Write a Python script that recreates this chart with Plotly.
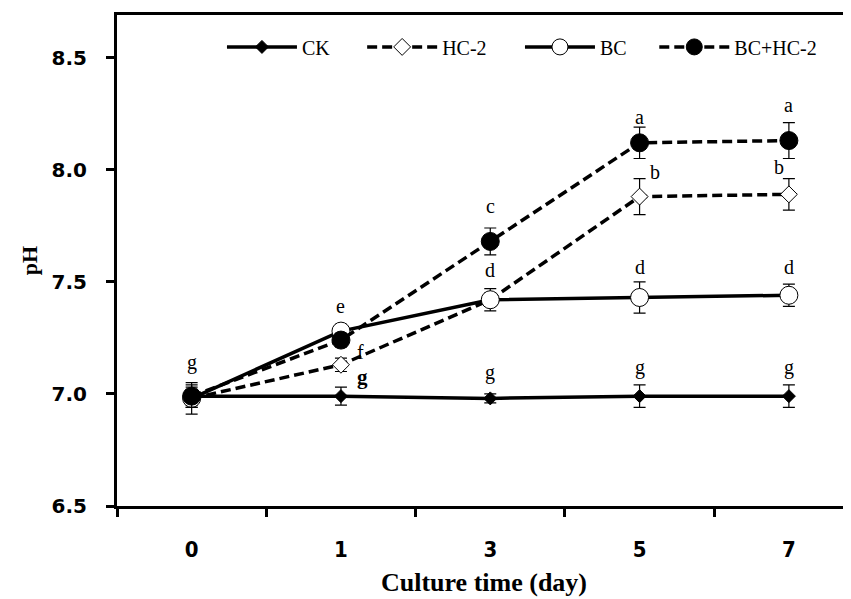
import plotly.graph_objects as go

days = ["0", "1", "3", "5", "7"]
series_names = ["CK", "HC-2", "BC", "BC+HC-2"]

ck = [6.99, 6.99, 6.98, 6.99, 6.99]
ck_err = [0.04, 0.04, 0.02, 0.05, 0.05]
hc2 = [6.98, 7.13, 7.42, 7.88, 7.89]
hc2_err = [0.04, 0.03, 0.03, 0.08, 0.07]
bc = [6.98, 7.28, 7.42, 7.43, 7.44]
bc_err = [0.07, 0.03, 0.05, 0.07, 0.05]
bchc = [6.99, 7.24, 7.68, 8.12, 8.13]
bchc_err = [0.05, 0.03, 0.06, 0.07, 0.08]

ck_letters = ["g", "g", "g", "g", "g"]
hc2_letters = ["", "f", "", "b", "b"]
bc_letters = ["", "e", "d", "d", "d"]
bchc_letters = ["", "", "c", "a", "a"]

y_ticks = [6.5, 7.0, 7.5, 8.0, 8.5]
y_ticktext = ["6.5", "7.0", "7.5", "8.0", "8.5"]

values = [ck, hc2, bc, bchc]
errors = [ck_err, hc2_err, bc_err, bchc_err]
letters = [ck_letters, hc2_letters, bc_letters, bchc_letters]

# styles
dashes = ["solid", "10px,5px", "solid", "10px,5px"]
symbols = ["diamond", "diamond", "circle", "circle"]
msizes = [10, 13, 18, 18]
mfill = ["black", "white", "white", "black"]
legend_ids = ["legend", "legend2", "legend3", "legend4"]
legend_x = [0.143, 0.334, 0.549, 0.732]
# letter offsets in pixels (xshift, yshift)
offsets = [
    [(0, 34), (22, 19), (0, 26), (0, 29), (0, 29)],
    [(0, 0), (20, 13), (0, 0), (15, 25), (-10, 27)],
    [(0, 0), (0, 25), (0, 30), (0, 30), (0, 28)],
    [(0, 0), (0, 0), (0, 35), (0, 26), (0, 36)],
]

serif = "Liberation Serif, Times New Roman, serif"

fig = go.Figure()
for k, name in enumerate(series_names):
    fig.add_trace(go.Scatter(
        x=days, y=values[k], name=name, mode="lines+markers",
        legend=legend_ids[k],
        line=dict(color="black", width=3.5, dash=dashes[k]),
        marker=dict(symbol=symbols[k], size=msizes[k], color=mfill[k],
                    line=dict(color="black", width=1)),
        error_y=dict(type="data", array=errors[k], visible=True,
                     color="black", thickness=1.2, width=6),
    ))

annotations = []
for k in range(len(series_names)):
    for i, d in enumerate(days):
        t = letters[k][i]
        if not t:
            continue
        bold = (k == 0 and i == 1)
        annotations.append(dict(
            x=i, y=values[k][i], xref="x", yref="y",
            text=("<b>%s</b>" % t) if bold else t,
            showarrow=False, xanchor="center", yanchor="middle",
            xshift=offsets[k][i][0], yshift=offsets[k][i][1],
            font=dict(family=serif, size=21 if bold else 20, color="black"),
        ))

legend_common = dict(orientation="h", y=0.935, xanchor="left", yanchor="middle",
                     font=dict(family=serif, size=20, color="black"),
                     itemwidth=70, bgcolor="rgba(0,0,0,0)")

layout_legends = {}
for k, lid in enumerate(legend_ids):
    d = dict(legend_common)
    d["x"] = legend_x[k]
    layout_legends[lid] = d

fig.update_layout(
    width=843, height=591,
    margin=dict(l=109, r=0, t=7, b=93),
    paper_bgcolor="white", plot_bgcolor="white",
    showlegend=True,
    annotations=annotations,
    **layout_legends,
)
fig.update_xaxes(
    type="category", range=[-0.5, 4.416],
    showline=True, linecolor="black", linewidth=3, mirror=True,
    ticks="outside", ticklen=8, tickwidth=3, tickcolor="black",
    tickson="boundaries", showgrid=False, zeroline=False,
    ticklabelstandoff=22,
    tickfont=dict(family="Liberation Sans Narrow, DejaVu Sans Condensed, Liberation Sans, sans-serif",
                  size=22, color="black", weight="bold"),
    title=dict(text="<b>Culture time (day)</b>", font=dict(family=serif, size=26, color="black"),
               standoff=12),
)
fig.update_yaxes(
    range=[6.5, 8.69], tickvals=y_ticks, ticktext=y_ticktext,
    showline=True, linecolor="black", linewidth=3, mirror=False,
    ticks="outside", ticklen=8, tickwidth=3, tickcolor="black",
    showgrid=False, zeroline=False, ticklabelstandoff=15,
    tickfont=dict(family="DejaVu Sans, Verdana, sans-serif", size=20, color="black", weight="bold"),
    title=dict(text="<b>pH</b>", font=dict(family=serif, size=22, color="black"), standoff=8),
)

fig.write_html("out.html")
